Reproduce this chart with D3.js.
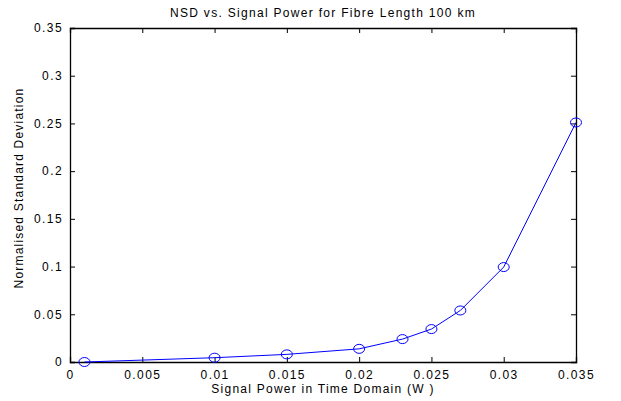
<!DOCTYPE html>
<html>
<head>
<meta charset="utf-8">
<script src="https://cdn.jsdelivr.net/npm/d3@7"></script>
<style>
  body { margin: 0; background: #fff; }
  text { font-family: "Liberation Sans", Arial, sans-serif; fill: #000; }
</style>
</head>
<body>
<div id="vis"></div>
<script>
// values
const signalPower = [0.001, 0.01, 0.015, 0.02, 0.023, 0.025, 0.027, 0.03, 0.035];
const nsd = [0.0, 0.0045, 0.008, 0.0138, 0.024, 0.0345, 0.054, 0.0995, 0.251];
const xTicks = [0, 0.005, 0.01, 0.015, 0.02, 0.025, 0.03, 0.035];
const yTicks = [0, 0.05, 0.1, 0.15, 0.2, 0.25, 0.3, 0.35];

const width = 621;
const height = 401;
const margin = { top: 28, right: 45, bottom: 39, left: 70 };

const svg = d3.select("#vis").append("svg")
  .attr("width", width)
  .attr("height", height);

const x = d3.scaleLinear()
  .domain([0, 0.035])
  .range([margin.left, width - margin.right]);
const y = d3.scaleLinear()
  .domain([0, 0.35])
  .range([height - margin.bottom, margin.top]);

const fmt = d => d === 0 ? "0" : String(+d.toFixed(3));

// MATLAB style: ticks pointing inwards, on all four sides
const tick = 5;
svg.append("g")
  .attr("transform", `translate(0,${y(0)})`)
  .call(d3.axisBottom(x).tickValues(xTicks).tickFormat(fmt).tickSize(-tick).tickPadding(8))
  .call(g => g.selectAll("text").style("font-size", "12px").style("letter-spacing", "1.4px"));
svg.append("g")
  .attr("transform", `translate(0,${y(0.35)})`)
  .call(d3.axisTop(x).tickValues(xTicks).tickFormat("").tickSize(-tick));
svg.append("g")
  .attr("transform", `translate(${x(0)},0)`)
  .call(d3.axisLeft(y).tickValues(yTicks).tickFormat(fmt).tickSize(-tick).tickPadding(7))
  .call(g => g.selectAll("text").style("font-size", "12px").style("letter-spacing", "1.4px"));
svg.append("g")
  .attr("transform", `translate(${x(0.035)},0)`)
  .call(d3.axisRight(y).tickValues(yTicks).tickFormat("").tickSize(-tick));

svg.selectAll(".domain").attr("stroke", "#000").attr("stroke-width", 1.3);
svg.selectAll(".tick line").attr("stroke", "#000");

// line + circle markers
const pts = signalPower.map((p, i) => ({ x: p, y: nsd[i] }));
svg.append("path")
  .datum(pts)
  .attr("fill", "none")
  .attr("stroke", "#0000ff")
  .attr("stroke-width", 1)
  .attr("d", d3.line().x(d => x(d.x)).y(d => y(d.y)));

svg.selectAll(".marker")
  .data(pts)
  .join("ellipse")
  .attr("class", "marker")
  .attr("cx", d => x(d.x))
  .attr("cy", d => y(d.y))
  .attr("rx", 5.5)
  .attr("ry", 4.5)
  .attr("fill", "none")
  .attr("stroke", "#0000ff")
  .attr("stroke-width", 1);

// labels
svg.append("text")
  .attr("x", (x(0) + x(0.035)) / 2)
  .attr("y", 17)
  .attr("text-anchor", "middle")
  .style("font-size", "12px")
  .style("letter-spacing", "1.3px")
  .text("NSD vs. Signal Power for Fibre Length 100 km");

svg.append("text")
  .attr("x", (x(0) + x(0.035)) / 2)
  .attr("y", 393)
  .attr("text-anchor", "middle")
  .style("font-size", "12px")
  .style("letter-spacing", "1.25px")
  .text("Signal Power in Time Domain (W )");

svg.append("text")
  .attr("transform", `translate(23,188) rotate(-90)`)
  .attr("text-anchor", "middle")
  .style("font-size", "12px")
  .style("letter-spacing", "1.2px")
  .text("Normalised Standard Deviation");
</script>
</body>
</html>
